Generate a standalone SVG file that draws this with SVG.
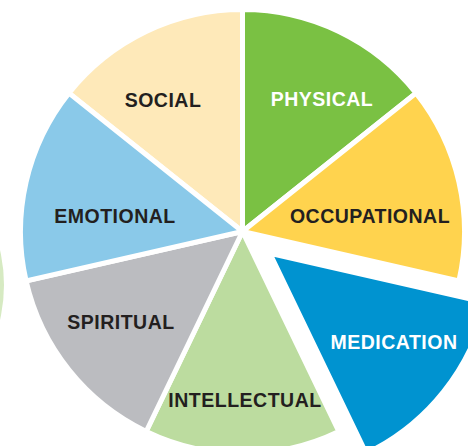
<svg xmlns="http://www.w3.org/2000/svg" width="468" height="446" viewBox="0 0 468 446">
<style>
.s{stroke:#ffffff;stroke-width:5;stroke-linejoin:miter}
.t{font-family:"Liberation Sans",Arial,sans-serif;font-weight:bold;font-size:19.5px;letter-spacing:0.5px;text-anchor:middle;fill:#231f20}
.w{fill:#ffffff}
</style>
<rect width="468" height="446" fill="#ffffff"/>
<circle cx="-151" cy="285" r="155" fill="#d6eac2"/>
<g id="social"><path class="s" fill="#fee9b9" d="M242.5 231.5 L68.93 93.09 A222 222 0 0 1 242.5 9.5 Z"/><text class="t" x="163" y="107">SOCIAL</text></g>
<g id="physical"><path class="s" fill="#7ac143" d="M242.5 231.5 L242.5 9.5 A222 222 0 0 1 416.07 93.09 Z"/><text class="t w" x="322" y="106">PHYSICAL</text></g>
<g id="occupational"><path class="s" fill="#ffd34e" d="M242.5 231.5 L416.07 93.09 A222 222 0 0 1 458.93 280.9 Z"/><text class="t" x="370" y="223">OCCUPATIONAL</text></g>
<g id="medication"><path class="s" fill="#0093d0" d="M269.86 253.32 L486.29 302.72 A222 222 0 0 1 366.18 453.34 Z"/><text class="t w" x="394" y="349">MEDICATION</text></g>
<g id="intellectual"><path class="s" fill="#bcdc9f" d="M242.5 231.5 L338.82 431.52 A222 222 0 0 1 146.18 431.52 Z"/><text class="t" x="245" y="407">INTELLECTUAL</text></g>
<g id="spiritual"><path class="s" fill="#bbbcc0" d="M242.5 231.5 L146.18 431.52 A222 222 0 0 1 26.07 280.9 Z"/><text class="t" x="121" y="329">SPIRITUAL</text></g>
<g id="emotional"><path class="s" fill="#8ac9e9" d="M242.5 231.5 L26.07 280.9 A222 222 0 0 1 68.93 93.09 Z"/><text class="t" x="115" y="223">EMOTIONAL</text></g>
<g id="connectors"></g>
</svg>
